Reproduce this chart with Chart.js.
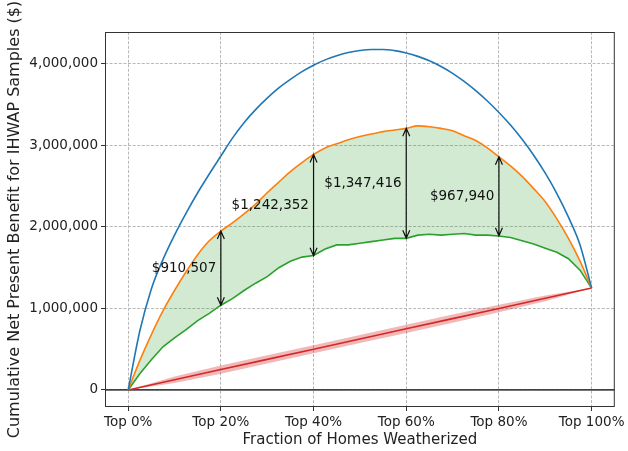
<!DOCTYPE html>
<html>
<head>
<meta charset="utf-8">
<script src="https://cdn.jsdelivr.net/npm/chart.js@4.4.1/dist/chart.umd.min.js"></script>
<style>
  html, body { margin: 0; padding: 0; background: #fff; }
  #wrap { width: 628px; height: 451px; }
</style>
</head>
<body>
<div id="wrap"><canvas id="npb" width="628" height="451"></canvas></div>
<script>
// fraction of homes weatherized (%)
const pct = [0, 2.5, 5, 7.5, 10, 12.5, 15, 17.5, 20, 22.5, 25, 27.5, 30, 32.5, 35, 37.5, 40,
  42.5, 45, 47.5, 50, 52.5, 55, 57.5, 60, 62.5, 65, 67.5, 70, 72.5, 75, 77.5, 80,
  82.5, 85, 87.5, 90, 92.5, 95, 97.5, 100];

// cumulative benefit, millions of $
const blueM = [0, 0.72, 1.24, 1.60, 1.90, 2.17, 2.42, 2.65, 2.87, 3.09, 3.28, 3.44, 3.58, 3.705, 3.81, 3.905, 3.985,
  4.05, 4.10, 4.14, 4.165, 4.178, 4.178, 4.163, 4.135, 4.093, 4.038, 3.968, 3.885, 3.785, 3.672, 3.545, 3.405,
  3.25, 3.075, 2.88, 2.66, 2.41, 2.12, 1.78, 1.25];
const orangeM = [0, 0.36, 0.68, 0.97, 1.22, 1.45, 1.66, 1.83, 1.95, 2.05, 2.16, 2.28, 2.42, 2.55, 2.68, 2.79, 2.89,
  2.97, 3.02, 3.07, 3.11, 3.14, 3.17, 3.19, 3.21, 3.24, 3.23, 3.21, 3.18, 3.12, 3.06, 2.97, 2.86,
  2.75, 2.62, 2.47, 2.31, 2.10, 1.86, 1.58, 1.25];
const greenM = [0, 0.20, 0.37, 0.53, 0.64, 0.74, 0.85, 0.94, 1.04, 1.12, 1.22, 1.31, 1.39, 1.50, 1.58, 1.63, 1.65,
  1.73, 1.78, 1.78, 1.80, 1.82, 1.84, 1.86, 1.86, 1.90, 1.91, 1.90, 1.91, 1.92, 1.90, 1.90, 1.89,
  1.87, 1.83, 1.79, 1.74, 1.69, 1.61, 1.47, 1.25];

const redPct = [0, 10, 20, 30, 40, 50, 60, 70, 80, 90, 100];
const redM    = [0, 0.125, 0.25, 0.375, 0.50, 0.625, 0.75, 0.875, 1.00, 1.125, 1.25];
const redLowM = [0, 0.085, 0.20, 0.325, 0.45, 0.575, 0.70, 0.825, 0.955, 1.09, 1.25];
const redHiM  = [0, 0.165, 0.30, 0.425, 0.55, 0.675, 0.80, 0.925, 1.045, 1.16, 1.25];

// gap arrows
const arrowPct = [20, 40, 60, 80];
const arrowTop = [1950000, 2890000, 3210000, 2860000];
const arrowGap = [910507, 1242352, 1347416, 967940];

const xTicks = [0, 20, 40, 60, 80, 100];
const yTicks = [0, 1000000, 2000000, 3000000, 4000000];

const pts = (xs, ys) => xs.map((x, i) => ({ x: x, y: ys[i] * 1e6 }));

const FONT = "'DejaVu Sans', sans-serif";

const frame = {
  id: 'frame',
  afterDatasetsDraw(chart) {
    const { ctx, chartArea: a, scales } = chart;
    const xs = scales.x, ys = scales.y;
    ctx.save();
    ctx.strokeStyle = '#111';
    ctx.fillStyle = '#111';
    ctx.lineWidth = 1.2;
    ctx.font = '13.5px ' + FONT;
    ctx.textAlign = 'right';
    ctx.textBaseline = 'middle';
    arrowPct.forEach((p, i) => {
      const x = xs.getPixelForValue(p);
      const yTop = ys.getPixelForValue(arrowTop[i]);
      const yBot = ys.getPixelForValue(arrowTop[i] - arrowGap[i]);
      ctx.beginPath();
      ctx.moveTo(x, yTop);
      ctx.lineTo(x, yBot);
      // open heads
      ctx.moveTo(x - 3.5, yTop + 8); ctx.lineTo(x, yTop); ctx.lineTo(x + 3.5, yTop + 8);
      ctx.moveTo(x - 3.5, yBot - 8); ctx.lineTo(x, yBot); ctx.lineTo(x + 3.5, yBot - 8);
      ctx.stroke();
      const lx = xs.getPixelForValue(p - 1);
      const ly = ys.getPixelForValue(arrowTop[i] - arrowGap[i] / 2);
      ctx.fillText('$' + arrowGap[i].toLocaleString('en-US'), lx, ly);
    });
    ctx.restore();
    ctx.save();
    ctx.strokeStyle = '#333';
    ctx.lineWidth = 1;
    ctx.strokeRect(a.left + 0.5, a.top + 0.5, a.right - a.left - 1, a.bottom - a.top - 1);
    ctx.restore();
  }
};

const line = (label, data, color, extra) => Object.assign({
  label: label, data: data, borderColor: color, backgroundColor: color,
  borderWidth: 1.6, pointRadius: 0, fill: false, tension: 0
}, extra || {});

new Chart(document.getElementById('npb').getContext('2d'), {
  type: 'line',
  data: {
    datasets: [
      line('perfect', pts(pct, blueM), '#1f77b4', { cubicInterpolationMode: 'monotone' }),
      line('model', pts(pct, orangeM), '#ff7f0e', { cubicInterpolationMode: 'monotone' }),
      line('program', pts(pct, greenM), '#2ca02c', { fill: { target: 1 }, backgroundColor: 'rgba(44,160,44,0.22)' }),
      line('random', pts(redPct, redM), '#d62728'),
      line('rand-hi', pts(redPct, redHiM), 'rgba(0,0,0,0)', { borderWidth: 0, fill: { target: 5 }, backgroundColor: 'rgba(214,39,40,0.33)' }),
      line('rand-lo', pts(redPct, redLowM), 'rgba(0,0,0,0)', { borderWidth: 0 }),
      line('zero', [{ x: -5, y: 0 }, { x: 105, y: 0 }], 'rgba(40,40,40,0.85)', { borderWidth: 1.8 })
    ]
  },
  options: {
    responsive: false,
    animation: false,
    layout: { padding: { top: 32, right: 12, left: 0, bottom: 0 } },
    plugins: { legend: { display: false }, tooltip: { enabled: false } },
    scales: {
      x: {
        type: 'linear', min: -5, max: 105,
        afterBuildTicks: (s) => { s.ticks = xTicks.map(v => ({ value: v })); },
        afterFit: (s) => { s.height = 44; },
        ticks: { callback: (v) => 'Top ' + v + '%', color: '#222', font: { family: FONT, size: 13.5 }, padding: 3, maxRotation: 0 },
        grid: { color: '#b8b8b8', tickColor: '#333', tickLength: 4, tickBorderDash: [] },
        border: { display: false, dash: [3, 1.6] },
        title: { display: true, text: 'Fraction of Homes Weatherized', color: '#222', font: { family: FONT, size: 15 }, padding: { top: 0, bottom: 2 } }
      },
      y: {
        type: 'linear', min: -209000, max: 4392000,
        afterBuildTicks: (s) => { s.ticks = yTicks.map(v => ({ value: v })); },
        afterFit: (s) => { s.width = 105; },
        ticks: { callback: (v) => v.toLocaleString('en-US'), color: '#222', font: { family: FONT, size: 13.5 }, padding: 3 },
        grid: { color: '#b8b8b8', tickColor: '#333', tickLength: 4, tickBorderDash: [] },
        border: { display: false, dash: [3, 1.6] },
        title: { display: true, text: 'Cumulative Net Present Benefit for IHWAP Samples ($)', color: '#222', font: { family: FONT, size: 16 }, padding: { top: 5, bottom: 0 } }
      }
    }
  },
  plugins: [frame]
});
</script>
</body>
</html>
